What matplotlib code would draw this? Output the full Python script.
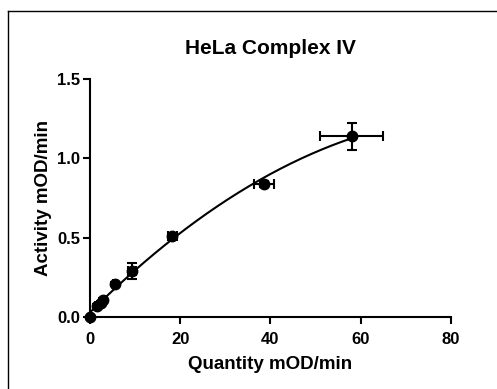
"""
HeLa Complex IV: activity vs quantity with x/y error bars and a fitted curve.
"""
import matplotlib
matplotlib.use("Agg")
import matplotlib.pyplot as plt
import numpy as np
from matplotlib.lines import Line2D

quantity     = [0.0, 1.5, 2.5, 3.0, 5.5, 9.3, 18.2, 38.5, 58.0]
activity     = [0.0, 0.07, 0.09, 0.11, 0.21, 0.29, 0.51, 0.84, 1.14]
quantity_err = [0.0, 0.3, 0.3, 0.4, 0.5, 0.8, 1.0, 2.2, 7.0]
activity_err = [0.0, 0.01, 0.01, 0.01, 0.01, 0.05, 0.015, 0.02, 0.085]

plt.rcParams["font.family"] = ["Liberation Sans", "DejaVu Sans"]

fig = plt.figure(figsize=(4.97, 3.89), dpi=100)
ax = fig.add_axes([0.181, 0.185, 0.726, 0.612])

# fitted curve (quadratic through the data)
coef = np.polyfit(quantity, activity, 2)
xs = np.linspace(0, max(quantity), 200)
ax.plot(xs, np.polyval(coef, xs), color="black", lw=1.5, clip_on=False)

ax.errorbar(quantity, activity, xerr=quantity_err, yerr=activity_err,
            fmt="o", color="black", ms=7.5, elinewidth=1.5, capsize=3.6,
            capthick=1.5, clip_on=False)

ax.set_xlim(0, 80)
ax.set_ylim(0, 1.5)
ax.set_xticks([0, 20, 40, 60, 80])
ax.set_yticks([0.0, 0.5, 1.0, 1.5])
ax.set_yticklabels(["0.0", "0.5", "1.0", "1.5"])
ax.spines[["top", "right"]].set_visible(False)
for s in ["left", "bottom"]:
    ax.spines[s].set_linewidth(1.5)
ax.tick_params(width=1.5, length=5, labelsize=12)
ax.tick_params(axis="x", pad=6)
ax.tick_params(axis="y", pad=2)
for lab in ax.get_xticklabels() + ax.get_yticklabels():
    lab.set_fontweight("bold")

ax.set_title("HeLa Complex IV", fontsize=15, fontweight="bold", pad=18)
ax.set_xlabel("Quantity mOD/min", fontsize=13.5, fontweight="bold", labelpad=6)
ax.set_ylabel("Activity mOD/min", fontsize=13.5, fontweight="bold", labelpad=4)

# frame drawn around the figure (left and top edges only visible)
fig.add_artist(Line2D([8 / 497, 8 / 497], [0, 1 - 11 / 389], color="black", lw=1))
fig.add_artist(Line2D([8 / 497, 1], [1 - 11 / 389, 1 - 11 / 389], color="black", lw=1))

fig.savefig("out.png", dpi=100)
